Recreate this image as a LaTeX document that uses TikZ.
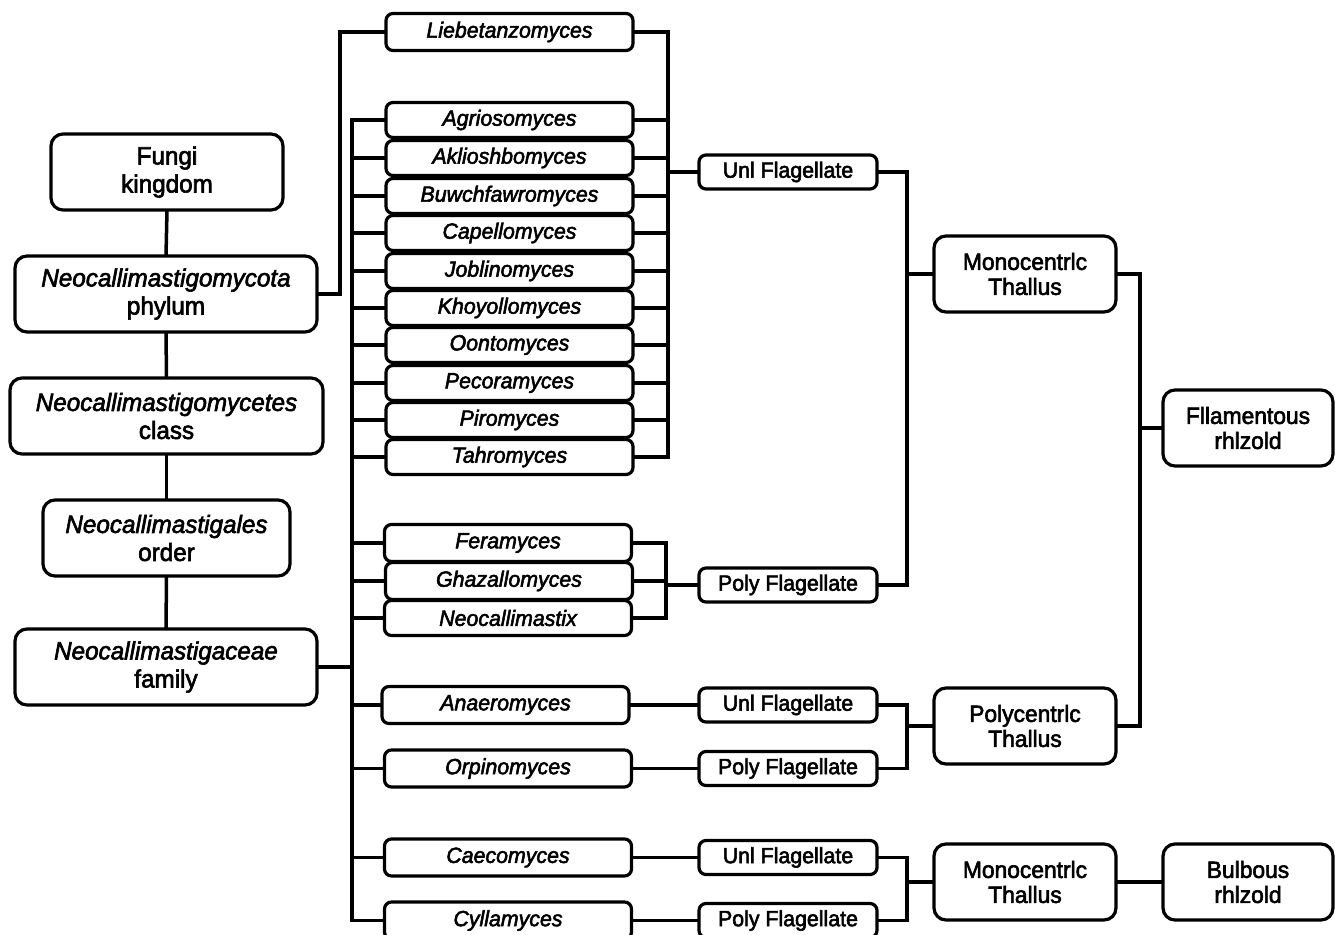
\documentclass[tikz,border=0pt]{standalone}
\usepackage{fontspec}
\setmainfont{Liberation Sans}[FakeStretch=0.97, FakeBold=2.5]
\begin{document}
\begin{tikzpicture}[x=1pt,y=-1pt,
  every node/.style={inner sep=0pt, outer sep=0pt},
  conn/.style={line width=3.5pt, line join=miter},
  box/.style={draw, line width=3.2pt, rounded corners=7pt, align=center},
  bigbox/.style={box, rounded corners=12pt, minimum height=76pt, font=\fontsize{25}{28}\selectfont},
  thalbox/.style={box, rounded corners=12pt, minimum width=182pt, minimum height=76pt, font=\fontsize{23.5}{25}\selectfont},
  genbox/.style={box, minimum width=247pt, minimum height=35pt, font=\fontsize{22}{24}\selectfont\itshape},
  flagbox/.style={box, minimum width=178pt, minimum height=34pt, font=\fontsize{22}{24}\selectfont},
  rhbox/.style={box, rounded corners=12pt, minimum width=170pt, minimum height=76pt, font=\fontsize{23.5}{25}\selectfont}]
\useasboundingbox (0,0) rectangle (1335,934);
% taxonomy column
\node[bigbox, minimum width=232pt] (fungi) at (167,172) {Fungi\\kingdom};
\node[bigbox, minimum width=302pt] (phylum) at (166,294) {{\itshape Neocallimastigomycota}\\phylum};
\node[bigbox, minimum width=313pt] (class) at (166.5,416) {{\itshape Neocallimastigomycetes}\\class};
\node[bigbox, minimum width=247pt] (order) at (166.5,538) {{\itshape Neocallimastigales}\\order};
\node[bigbox, minimum width=302pt] (family) at (166,667) {{\itshape Neocallimastigaceae}\\family};
\draw[conn] (fungi.south) -- (phylum.north);
\draw[conn] (phylum.south) -- (class.north);
\draw[conn] (class.south) -- (order.north);
\draw[conn] (order.south) -- (family.north);
% genera
\node[genbox, minimum height=37pt] (lie) at (509.5,32) {Liebetanzomyces};
\node[genbox] (agr) at (509.5,120) {Agriosomyces};
\node[genbox] (akl) at (509.5,158) {Aklioshbomyces};
\node[genbox] (buw) at (509.5,196) {Buwchfawromyces};
\node[genbox] (cap) at (509.5,233) {Capellomyces};
\node[genbox] (job) at (509.5,271) {Joblinomyces};
\node[genbox] (kho) at (509.5,308) {Khoyollomyces};
\node[genbox] (oon) at (509.5,345) {Oontomyces};
\node[genbox] (pec) at (509.5,383) {Pecoramyces};
\node[genbox] (pir) at (509.5,420) {Piromyces};
\node[genbox] (tah) at (509.5,457) {Tahromyces};
\node[genbox, minimum height=37pt] (fer) at (508,543) {Feramyces};
\node[genbox, minimum height=37pt] (gha) at (509,581) {Ghazallomyces};
\node[genbox] (neo) at (508,618) {Neocallimastix};
\node[genbox, minimum height=37pt] (ana) at (505.5,705) {Anaeromyces};
\node[genbox, minimum height=37pt] (orp) at (508,768.5) {Orpinomyces};
\node[genbox, minimum height=37pt] (cae) at (508,857.5) {Caecomyces};
\node[genbox, minimum height=37pt] (cyl) at (508,920.5) {Cyllamyces};
% flagellate boxes
\node[flagbox] (uni1) at (788,172) {Unl Flagellate};
\node[flagbox] (pol1) at (788,585) {Poly Flagellate};
\node[flagbox] (uni2) at (788,705) {Unl Flagellate};
\node[flagbox] (pol2) at (788,768.5) {Poly Flagellate};
\node[flagbox] (uni3) at (788,857.5) {Unl Flagellate};
\node[flagbox] (pol3) at (788,920.5) {Poly Flagellate};
% thallus boxes
\node[thalbox] (mono1) at (1025,274) {Monocentrlc\\Thallus};
\node[thalbox] (polyt) at (1025,726) {Polycentrlc\\Thallus};
\node[thalbox] (mono2) at (1025,882) {Monocentrlc\\Thallus};
% rhizoid boxes
\node[rhbox] (fil) at (1248,428) {Fllamentous\\rhlzold};
\node[rhbox] (bul) at (1248,882) {Bulbous\\rhlzold};
% bus coordinates
\coordinate (lb) at (352,0);
\coordinate (pb) at (340,0);
\coordinate (rb) at (668,0);
\coordinate (rb2) at (666,0);
\coordinate (fb) at (907,0);
\coordinate (tb) at (1140,0);
% phylum to Liebetanzomyces
\draw[conn] (phylum.east) -- (pb |- phylum.east) -- (pb |- lie.west) -- (lie.west);
% family to left bus
\draw[conn] (family.east) -- (lb |- family.east);
\draw[conn] (agr.west) -- (lb |- agr.west) -- (lb |- cyl.west) -- (cyl.west);
\foreach \g in {akl,buw,cap,job,kho,oon,pec,pir,tah,fer,gha,neo,ana,orp,cae}
  \draw[conn] (lb |- \g.west) -- (\g.west);
% uni flagellate group
\draw[conn] (lie.east) -- (rb |- lie.east) -- (rb |- tah.east) -- (tah.east);
\foreach \g in {agr,akl,buw,cap,job,kho,oon,pec,pir}
  \draw[conn] (\g.east) -- (rb |- \g.east);
\draw[conn] (rb |- uni1.west) -- (uni1.west);
% poly flagellate group
\draw[conn] (fer.east) -- (rb2 |- fer.east) -- (rb2 |- neo.east) -- (neo.east);
\draw[conn] (gha.east) -- (rb2 |- gha.east);
\draw[conn] (rb2 |- pol1.west) -- (pol1.west);
% to monocentric thallus 1
\draw[conn] (uni1.east) -- (fb |- uni1.east) -- (fb |- pol1.east) -- (pol1.east);
\draw[conn] (fb |- mono1.west) -- (mono1.west);
% genus to flagellate
\draw[conn] (ana.east) -- (uni2.west);
\draw[conn] (orp.east) -- (pol2.west);
\draw[conn] (cae.east) -- (uni3.west);
\draw[conn] (cyl.east) -- (pol3.west);
% to polycentric thallus
\draw[conn] (uni2.east) -- (fb |- uni2.east) -- (fb |- pol2.east) -- (pol2.east);
\draw[conn] (fb |- polyt.west) -- (polyt.west);
% to monocentric thallus 2
\draw[conn] (uni3.east) -- (fb |- uni3.east) -- (fb |- pol3.east) -- (pol3.east);
\draw[conn] (fb |- mono2.west) -- (mono2.west);
% thallus to rhizoid
\draw[conn] (mono1.east) -- (tb |- mono1.east) -- (tb |- polyt.east) -- (polyt.east);
\draw[conn] (tb |- fil.west) -- (fil.west);
\draw[conn] (mono2.east) -- (bul.west);
\end{tikzpicture}
\end{document}
